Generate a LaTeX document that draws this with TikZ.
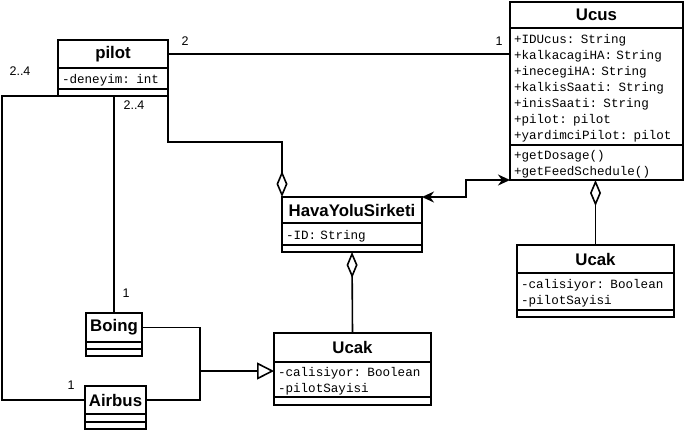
\documentclass[tikz,border=0pt]{standalone}
\usepackage{fontspec}
\setmainfont{Liberation Sans}
\newfontfamily\umlmono{Liberation Mono}
\usetikzlibrary{arrows.meta}
\tikzstyle{umltitle} = [draw, line width=1.6pt, anchor=north west, inner sep=0pt, outer sep=0pt, font=\bfseries\fontsize{16.8}{18}\selectfont]
\tikzstyle{umlattr} = [draw, line width=1.6pt, anchor=north west, inner xsep=4pt, inner ysep=0pt, outer sep=0pt, text height=13pt, align=left, font=\umlmono\fontsize{12.6}{16}\selectfont]
\tikzstyle{umlops} = [draw, line width=1.6pt, anchor=north west, inner sep=0pt, outer sep=0pt]
\tikzstyle{link} = [line width=1.6pt]
\tikzstyle{aggr} = [line width=1.6pt, {Diamond[open,length=26pt,width=11pt]}-]
\tikzstyle{mult} = [font=\fontsize{12.5}{14}\selectfont, inner sep=0pt]

\begin{document}
\begin{tikzpicture}[x=1pt, y=-1pt]
          \useasboundingbox (0,0) rectangle (684,432);

          % Classes
          \node[umltitle, minimum width=110pt, minimum height=28pt] (pilot) at (58,40) {pilot};
          \node[umlattr, text width=102pt, minimum height=21pt] (pilotA) at (pilot.south west) {-deneyim: int};
          \node[umlops, minimum width=110pt, minimum height=7pt] (pilotO) at (pilotA.south west) {};

          \node[umltitle, minimum width=173pt, minimum height=26pt] (ucus) at (510,2) {Ucus};
          \node[umlattr, text width=165pt, minimum height=117pt] (ucusA) at (ucus.south west) {+IDUcus: String\\+kalkacagiHA: String\\+inecegiHA: String\\+kalkisSaati: String\\+inisSaati: String\\+pilot: pilot\\+yardimciPilot: pilot};
          \node[umlattr, text width=165pt, minimum height=35pt] (ucusO) at (ucusA.south west) {+getDosage()\\+getFeedSchedule()};

          \node[umltitle, minimum width=140pt, minimum height=26pt] (hava) at (282,197) {HavaYoluSirketi};
          \node[umlattr, text width=132pt, minimum height=22pt] (havaA) at (hava.south west) {-ID: String};
          \node[umlops, minimum width=140pt, minimum height=7pt] (havaO) at (havaA.south west) {};

          \node[umltitle, minimum width=157pt, minimum height=28pt] (ucak1) at (517,245) {Ucak};
          \node[umlattr, text width=149pt, minimum height=37pt] (ucak1A) at (ucak1.south west) {-calisiyor: Boolean\\-pilotSayisi};
          \node[umlops, minimum width=157pt, minimum height=7pt] (ucak1O) at (ucak1A.south west) {};

          \node[umltitle, minimum width=157pt, minimum height=29pt] (ucak2) at (274,333) {Ucak};
          \node[umlattr, text width=149pt, minimum height=35pt] (ucak2A) at (ucak2.south west) {-calisiyor: Boolean\\-pilotSayisi};
          \node[umlops, minimum width=157pt, minimum height=8pt] (ucak2O) at (ucak2A.south west) {};

          \node[umltitle, minimum width=56pt, minimum height=29pt] (boing) at (86,313) {Boing};
          \node[umlops, minimum width=56pt, minimum height=7pt] (boingA) at (boing.south west) {};
          \node[umlops, minimum width=56pt, minimum height=7pt] (boingO) at (boingA.south west) {};

          \node[umltitle, minimum width=61pt, minimum height=28pt] (airbus) at (85,386) {Airbus};
          \node[umlops, minimum width=61pt, minimum height=8pt] (airbusA) at (airbus.south west) {};
          \node[umlops, minimum width=61pt, minimum height=7pt] (airbusO) at (airbusA.south west) {};

          % Edges
          \coordinate (gen) at (200,371);
          \draw[link] (pilot.east) -- (pilot.east -| ucusA.west);
          \draw[link] (pilotO.south west) -- ++(-56,0) |- (airbus.west);
          \draw[link] (boing.north) -- (boing.north |- pilotO.south);
          \draw[aggr] (hava.north west) -- ++(0,-55) -| (pilotO.south east);
          \draw[link, {Stealth[length=12pt,width=11pt]}-{Stealth[length=12pt,width=11pt]}] (hava.north east) -- ++(44,0) |- (ucusO.south west);
          \draw[aggr] (ucusO.south -| ucak1.north) -- (ucak1.north);
          \draw[aggr] (havaO.south) -- (ucak2.north);
          \draw[link] (boing.east) -| (gen) |- (airbus.east);
          \draw[link, -{Triangle[open,length=17pt,width=17pt]}] (gen) -- (gen -| ucak2A.west);

          % Multiplicities
          \node[mult] (m1) at (185,41) {2};
          \node[mult] (m2) at (499,41) {1};
          \node[mult] (m3) at (20,71) {2..4};
          \node[mult] (m4) at (134,105) {2..4};
          \node[mult] (m5) at (126,293) {1};
          \node[mult] (m6) at (71,385) {1};

        \end{tikzpicture}
\end{document}
